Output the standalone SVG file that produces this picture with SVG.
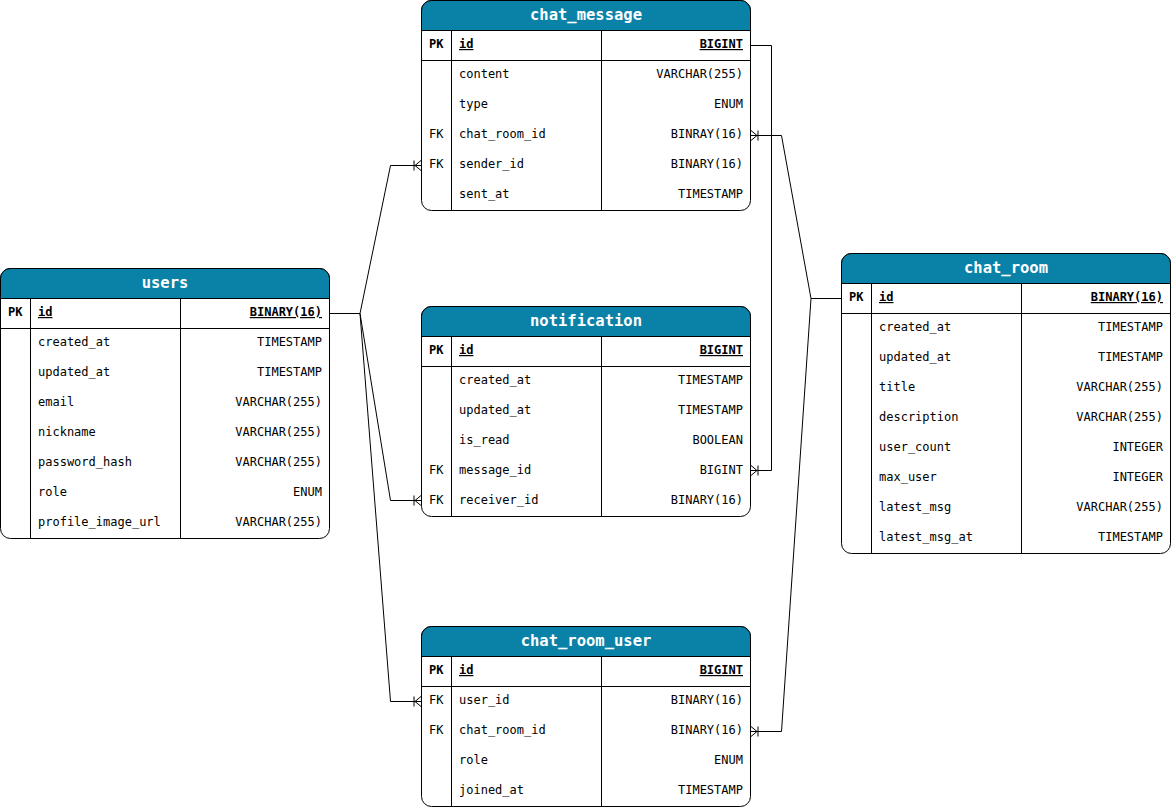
<svg xmlns="http://www.w3.org/2000/svg" width="1172" height="807" viewBox="0 0 1172 807">
<defs>
<style>
.box{fill:#fff;stroke:#000;stroke-width:1}
.hdr{fill:#0a82a8;stroke:#000;stroke-width:1}
.ln{fill:none;stroke:#000;stroke-width:1}
.t{font-family:"DejaVu Sans Mono","Liberation Mono",monospace;font-size:12px;fill:#000}
.b{font-weight:bold}
.u{text-decoration:underline}
.r{text-anchor:end}
.title{font-family:"DejaVu Sans Mono","Liberation Mono",monospace;font-size:15.5px;font-weight:bold;fill:#fff;text-anchor:middle}
.conn{fill:none;stroke:#000;stroke-width:1}
</style>
<marker id="many" markerUnits="userSpaceOnUse" markerWidth="14" markerHeight="14" refX="11" refY="6" orient="auto" overflow="visible">
<path d="M11,1 L5,6 L11,11 M4,1 V11" fill="none" stroke="#000" stroke-width="1"/>
</marker>
</defs>
<rect width="1172" height="807" fill="#fff"/>

<g id="connectors">
<path class="conn" d="M751,45.5 H771.5 V470.5 H751" marker-end="url(#many)"/>
<path class="conn" d="M841,298.5 H811 L781.5,135.5 H751" marker-end="url(#many)"/>
<path class="conn" d="M811,298.5 L781.5,731.5 H751" marker-end="url(#many)"/>
<path class="conn" d="M330,313.5 H360 L390.5,165.5 H421" marker-end="url(#many)"/>
<path class="conn" d="M360,313.5 L390.5,500.5 H421" marker-end="url(#many)"/>
<path class="conn" d="M360,313.5 L390.5,701.5 H421" marker-end="url(#many)"/>
</g>

<g id="users">
<rect class="box" x="0.5" y="268.5" width="329" height="270" rx="10"/>
<path class="hdr" d="M0.5,298.5 V278.5 A10,10 0 0 1 10.5,268.5 H319.5 A10,10 0 0 1 329.5,278.5 V298.5 Z"/>
<path class="ln" d="M0.5,328.5 H329.5 M30.5,298.5 V538.5 M180.5,298.5 V538.5"/>
<text class="title" x="165" y="288">users</text>
<text class="t b" x="8" y="316">PK</text>
<text class="t b u" x="38" y="316">id</text>
<text class="t b u r" x="322" y="316">BINARY(16)</text>
<text class="t" x="38" y="346">created_at</text><text class="t r" x="322" y="346">TIMESTAMP</text>
<text class="t" x="38" y="376">updated_at</text><text class="t r" x="322" y="376">TIMESTAMP</text>
<text class="t" x="38" y="406">email</text><text class="t r" x="322" y="406">VARCHAR(255)</text>
<text class="t" x="38" y="436">nickname</text><text class="t r" x="322" y="436">VARCHAR(255)</text>
<text class="t" x="38" y="466">password_hash</text><text class="t r" x="322" y="466">VARCHAR(255)</text>
<text class="t" x="38" y="496">role</text><text class="t r" x="322" y="496">ENUM</text>
<text class="t" x="38" y="526">profile_image_url</text><text class="t r" x="322" y="526">VARCHAR(255)</text>
</g>

<g id="chat_message">
<rect class="box" x="421.5" y="0.5" width="329" height="210" rx="10"/>
<path class="hdr" d="M421.5,30.5 V10.5 A10,10 0 0 1 431.5,0.5 H740.5 A10,10 0 0 1 750.5,10.5 V30.5 Z"/>
<path class="ln" d="M421.5,60.5 H750.5 M451.5,30.5 V210.5 M601.5,30.5 V210.5"/>
<text class="title" x="586" y="20">chat_message</text>
<text class="t b" x="429" y="48">PK</text>
<text class="t b u" x="459" y="48">id</text>
<text class="t b u r" x="743" y="48">BIGINT</text>
<text class="t" x="459" y="78">content</text><text class="t r" x="743" y="78">VARCHAR(255)</text>
<text class="t" x="459" y="108">type</text><text class="t r" x="743" y="108">ENUM</text>
<text class="t" x="429" y="138">FK</text><text class="t" x="459" y="138">chat_room_id</text><text class="t r" x="743" y="138">BINRAY(16)</text>
<text class="t" x="429" y="168">FK</text><text class="t" x="459" y="168">sender_id</text><text class="t r" x="743" y="168">BINARY(16)</text>
<text class="t" x="459" y="198">sent_at</text><text class="t r" x="743" y="198">TIMESTAMP</text>
</g>

<g id="notification">
<rect class="box" x="421.5" y="306.5" width="329" height="210" rx="10"/>
<path class="hdr" d="M421.5,336.5 V316.5 A10,10 0 0 1 431.5,306.5 H740.5 A10,10 0 0 1 750.5,316.5 V336.5 Z"/>
<path class="ln" d="M421.5,366.5 H750.5 M451.5,336.5 V516.5 M601.5,336.5 V516.5"/>
<text class="title" x="586" y="326">notification</text>
<text class="t b" x="429" y="354">PK</text>
<text class="t b u" x="459" y="354">id</text>
<text class="t b u r" x="743" y="354">BIGINT</text>
<text class="t" x="459" y="384">created_at</text><text class="t r" x="743" y="384">TIMESTAMP</text>
<text class="t" x="459" y="414">updated_at</text><text class="t r" x="743" y="414">TIMESTAMP</text>
<text class="t" x="459" y="444">is_read</text><text class="t r" x="743" y="444">BOOLEAN</text>
<text class="t" x="429" y="474">FK</text><text class="t" x="459" y="474">message_id</text><text class="t r" x="743" y="474">BIGINT</text>
<text class="t" x="429" y="504">FK</text><text class="t" x="459" y="504">receiver_id</text><text class="t r" x="743" y="504">BINARY(16)</text>
</g>

<g id="chat_room_user">
<rect class="box" x="421.5" y="626.5" width="329" height="180" rx="10"/>
<path class="hdr" d="M421.5,656.5 V636.5 A10,10 0 0 1 431.5,626.5 H740.5 A10,10 0 0 1 750.5,636.5 V656.5 Z"/>
<path class="ln" d="M421.5,686.5 H750.5 M451.5,656.5 V806.5 M601.5,656.5 V806.5"/>
<text class="title" x="586" y="646">chat_room_user</text>
<text class="t b" x="429" y="674">PK</text>
<text class="t b u" x="459" y="674">id</text>
<text class="t b u r" x="743" y="674">BIGINT</text>
<text class="t" x="429" y="704">FK</text><text class="t" x="459" y="704">user_id</text><text class="t r" x="743" y="704">BINARY(16)</text>
<text class="t" x="429" y="734">FK</text><text class="t" x="459" y="734">chat_room_id</text><text class="t r" x="743" y="734">BINARY(16)</text>
<text class="t" x="459" y="764">role</text><text class="t r" x="743" y="764">ENUM</text>
<text class="t" x="459" y="794">joined_at</text><text class="t r" x="743" y="794">TIMESTAMP</text>
</g>

<g id="chat_room">
<rect class="box" x="841.5" y="253.5" width="329" height="300" rx="10"/>
<path class="hdr" d="M841.5,283.5 V263.5 A10,10 0 0 1 851.5,253.5 H1160.5 A10,10 0 0 1 1170.5,263.5 V283.5 Z"/>
<path class="ln" d="M841.5,313.5 H1170.5 M871.5,283.5 V553.5 M1021.5,283.5 V553.5"/>
<text class="title" x="1006" y="273">chat_room</text>
<text class="t b" x="849" y="301">PK</text>
<text class="t b u" x="879" y="301">id</text>
<text class="t b u r" x="1163" y="301">BINARY(16)</text>
<text class="t" x="879" y="331">created_at</text><text class="t r" x="1163" y="331">TIMESTAMP</text>
<text class="t" x="879" y="361">updated_at</text><text class="t r" x="1163" y="361">TIMESTAMP</text>
<text class="t" x="879" y="391">title</text><text class="t r" x="1163" y="391">VARCHAR(255)</text>
<text class="t" x="879" y="421">description</text><text class="t r" x="1163" y="421">VARCHAR(255)</text>
<text class="t" x="879" y="451">user_count</text><text class="t r" x="1163" y="451">INTEGER</text>
<text class="t" x="879" y="481">max_user</text><text class="t r" x="1163" y="481">INTEGER</text>
<text class="t" x="879" y="511">latest_msg</text><text class="t r" x="1163" y="511">VARCHAR(255)</text>
<text class="t" x="879" y="541">latest_msg_at</text><text class="t r" x="1163" y="541">TIMESTAMP</text>
</g>
</svg>
